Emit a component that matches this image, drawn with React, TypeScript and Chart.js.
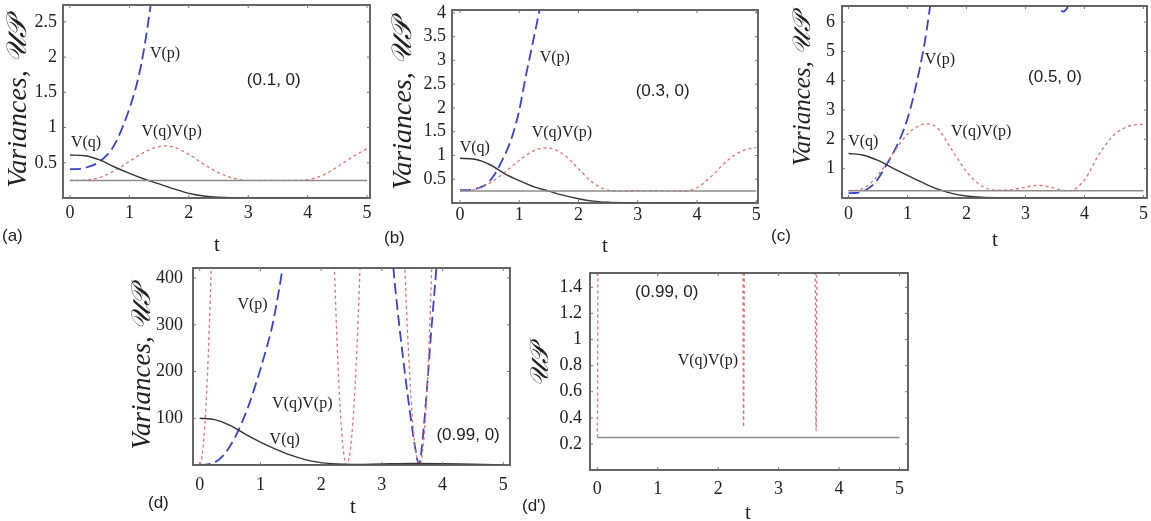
import React, { useEffect, useRef } from "react";
import { Chart, registerables } from "chart.js";

Chart.register(...registerables);

// ---------------- data ----------------
const X_TICKS = [0, 1, 2, 3, 4, 5];
const X_TICK_LABELS = ["0", "1", "2", "3", "4", "5"];

const BOUND_T = [0, 5];
const BOUND_V = [0.25, 0.25];

// (a) (0.1, 0)
const A_Y_TICKS = [0.5, 1, 1.5, 2, 2.5];
const A_Y_LABELS = ["0.5", "1", "1.5", "2", "2.5"];
const A_VQ_T = [0, 0.25, 0.5, 0.75, 1, 1.25, 1.5, 1.75, 2, 2.25, 2.5, 2.75, 3, 3.5, 4, 4.5, 5];
const A_VQ = [0.61, 0.6, 0.54, 0.44, 0.35, 0.27, 0.2, 0.13, 0.065, 0.028, 0.01, 0.004, 0.002, 0.001, 0.002, 0.003, 0.001];
const A_VP_T = [0, 0.1, 0.2, 0.3, 0.4, 0.5, 0.6, 0.7, 0.8, 0.9, 1.0, 1.1, 1.2, 1.3, 1.4];
const A_VP = [0.41, 0.41, 0.42, 0.44, 0.47, 0.52, 0.59, 0.69, 0.84, 1.04, 1.27, 1.54, 1.9, 2.4, 3.0];
const A_UP_T = [0, 0.25, 0.5, 0.75, 1, 1.25, 1.5, 1.6, 1.75, 2, 2.25, 2.5, 2.75, 3, 3.25, 3.5, 3.75, 4, 4.25, 4.5, 4.75, 5];
const A_UP = [0.25, 0.255, 0.29, 0.39, 0.52, 0.65, 0.73, 0.74, 0.72, 0.62, 0.48, 0.36, 0.28, 0.25, 0.25, 0.25, 0.25, 0.26, 0.32, 0.44, 0.58, 0.7];

// (b) (0.3, 0)
const B_Y_TICKS = [0.5, 1, 1.5, 2, 2.5, 3, 3.5, 4];
const B_Y_LABELS = ["0.5", "1", "1.5", "2", "2.5", "3", "3.5", "4"];
const B_VQ_T = [0, 0.25, 0.5, 0.75, 1, 1.25, 1.5, 1.75, 2, 2.25, 2.5, 2.75, 3, 3.5, 4, 4.5, 5];
const B_VQ = [0.94, 0.92, 0.81, 0.62, 0.47, 0.34, 0.25, 0.16, 0.09, 0.04, 0.015, 0.005, 0.003, 0.004, 0.004, 0.002, 0.002];
const B_VP_T = [0, 0.1, 0.2, 0.3, 0.4, 0.5, 0.6, 0.7, 0.8, 0.9, 1.0, 1.1, 1.2, 1.3, 1.4];
const B_VP = [0.27, 0.27, 0.28, 0.31, 0.36, 0.46, 0.63, 0.87, 1.13, 1.48, 1.95, 2.6, 3.2, 3.8, 4.4];
const B_UP_T = [0, 0.25, 0.5, 0.75, 1, 1.25, 1.45, 1.75, 2, 2.25, 2.5, 2.75, 3, 3.25, 3.5, 3.75, 4, 4.25, 4.5, 4.75, 5];
const B_UP = [0.25, 0.28, 0.42, 0.64, 0.9, 1.1, 1.16, 1.02, 0.72, 0.42, 0.27, 0.25, 0.255, 0.26, 0.255, 0.25, 0.32, 0.57, 0.88, 1.09, 1.17];

// (c) (0.5, 0)
const C_Y_TICKS = [1, 2, 3, 4, 5, 6];
const C_Y_LABELS = ["1", "2", "3", "4", "5", "6"];
const C_VQ_T = [0, 0.25, 0.5, 0.75, 1, 1.25, 1.5, 1.75, 2, 2.25, 2.5, 2.75, 3, 3.5, 4, 4.5, 5];
const C_VQ = [1.52, 1.46, 1.28, 1.02, 0.77, 0.53, 0.31, 0.16, 0.07, 0.025, 0.01, 0.008, 0.01, 0.012, 0.01, 0.005, 0.004];
const C_VP_T = [0, 0.1, 0.2, 0.3, 0.4, 0.5, 0.6, 0.7, 0.8, 0.9, 1.0, 1.1, 1.2, 1.3, 1.4, 1.5, 2.5, 3.5, 3.55, 3.6, 3.64, 3.68, 3.73, 3.78, 3.85];
const C_VP = [0.165, 0.17, 0.2, 0.28, 0.42, 0.65, 0.98, 1.33, 1.7, 2.15, 2.7, 3.45, 4.35, 5.4, 6.75, 7.9, null, 6.9, 6.6, 6.42, 6.36, 6.41, 6.58, 6.85, 7.4];
const C_UP_T = [0, 0.2, 0.4, 0.6, 0.8, 1.0, 1.2, 1.33, 1.5, 1.75, 2.0, 2.25, 2.5, 2.75, 3.0, 3.2, 3.4, 3.6, 3.75, 4.0, 4.25, 4.5, 4.75, 5.0];
const C_UP = [0.25, 0.29, 0.55, 1.05, 1.65, 2.18, 2.47, 2.53, 2.4, 1.65, 0.9, 0.42, 0.27, 0.28, 0.37, 0.43, 0.38, 0.27, 0.25, 0.62, 1.5, 2.15, 2.45, 2.52];

// (d) and (d') (0.99, 0)
const D_Y_TICKS = [100, 200, 300, 400];
const D_Y_LABELS = ["100", "200", "300", "400"];
const D2_Y_TICKS = [0.2, 0.4, 0.6, 0.8, 1, 1.2, 1.4];
const D2_Y_LABELS = ["0.2", "0.4", "0.6", "0.8", "1", "1.2", "1.4"];
const D_VQ_T = [0, 0.25, 0.5, 0.75, 1, 1.25, 1.5, 1.75, 2, 2.25, 2.5, 3, 3.5, 4, 4.5, 5];
const D_VQ = [100, 97, 85, 66, 49, 34, 21, 11, 5, 2, 1, 2.2, 3.2, 2.8, 1.5, 0.6];
const D_VP_T = [0, 0.2, 0.4, 0.6, 0.8, 1.0, 1.1, 1.2, 1.3, 1.4, 2.3, 3.12, 3.19, 3.26, 3.33, 3.4, 3.46, 3.52, 3.56, 3.59, 3.61, 3.63, 3.66, 3.7, 3.75, 3.8, 3.85, 3.9, 3.95];
const D_VP = [0, 3, 22, 64, 125, 205, 250, 300, 370, 450, null, 560, 422, 330, 250, 175, 115, 60, 28, 8, 2, 8, 40, 95, 175, 265, 345, 425, 520];
const D_UP_T = [0, 0.004, 0.008, 0.012, 0.02, 0.04, 0.07, 0.1, 0.13, 0.16, 0.19, 0.22, 1.2,
  2.18, 2.22, 2.26, 2.3, 2.34, 2.37, 2.39, 2.405, 2.412, 2.417, 2.42, 2.423, 2.428, 2.435, 2.45, 2.47, 2.5, 2.54, 2.58, 2.62, 2.66, 2.69, 3.0,
  3.34, 3.38, 3.42, 3.46, 3.5, 3.54, 3.57, 3.59, 3.605, 3.612, 3.617, 3.62, 3.623, 3.628, 3.635, 3.65, 3.67, 3.7, 3.74, 3.78, 3.82, 3.86];
const D_UP = [0.25, 0.44, 1.0, 1.9, 4.9, 19, 57, 117, 198, 300, 422, 566, null,
  606, 421, 270, 152, 68, 27, 9.8, 2.7, 1.0, 0.42, 0.33, 0.41, 0.89, 2.3, 8.2, 22, 56, 126, 223, 348, 504, 642, null,
  572, 421, 292, 187, 105, 47, 18.6, 6.9, 1.9, 0.77, 0.36, 0.3, 0.39, 0.97, 2.7, 9.8, 27, 68, 152, 269, 420, 605];

// ---------------- styles ----------------
const STYLE: Record<string, any> = {
  vq: { borderColor: "#353535", borderWidth: 1.4, borderDash: [] },
  vp: { borderColor: "#3a42c6", borderWidth: 1.8, borderDash: [11, 5] },
  up: { borderColor: "#e07272", borderWidth: 1.3, borderDash: [3, 3] },
  bound: { borderColor: "#8c8c8c", borderWidth: 1.5, borderDash: [] },
};

const SERIF = "'Liberation Serif', 'DejaVu Serif', serif";
const SANS = "'Liberation Sans', 'DejaVu Sans', sans-serif";
const TICK_FONT = { family: SERIF, size: 18 };
const NOTE_SERIF = `16px ${SERIF}`;
const NOTE_SANS = `17px ${SANS}`;
const Y_TITLE = "Variances, \u{1D4B0}\u{1D4AB}";
const Y_TITLE_SHORT = "\u{1D4B0}\u{1D4AB}";

type Series = { kind: string; t: number[]; v: (number | null)[] };
type Note = { text: string; t: number; v: number; font: string };
type Panel = {
  id: string;
  canvas: [number, number, number, number];
  frame: [number, number, number, number];
  xRange: [number, number];
  yRange: [number, number];
  yTicks: number[];
  yLabels: string[];
  xPad: number;
  yPad: number;
  yTitle: string;
  yTitlePos: [number, number];
  yTitleSize: number;
  tPos: [number, number];
  label: string;
  labelPos: [number, number];
  series: Series[];
  notes: Note[];
};

const PANELS: Panel[] = [
  {
    id: "a", canvas: [0, 0, 380, 262], frame: [63, 5, 370, 198],
    xRange: [-0.118, 5.05], yRange: [0, 2.74], yTicks: A_Y_TICKS, yLabels: A_Y_LABELS,
    xPad: 4, yPad: 6, yTitle: Y_TITLE, yTitlePos: [19, 103], yTitleSize: 28, tPos: [217, 245],
    label: "(a)", labelPos: [2, 236],
    series: [
      { kind: "bound", t: BOUND_T, v: BOUND_V },
      { kind: "vq", t: A_VQ_T, v: A_VQ },
      { kind: "up", t: A_UP_T, v: A_UP },
      { kind: "vp", t: A_VP_T, v: A_VP },
    ],
    notes: [
      { text: "V(p)", t: 1.6, v: 2.05, font: NOTE_SERIF },
      { text: "(0.1, 0)", t: 3.43, v: 1.67, font: NOTE_SANS },
      { text: "V(q)V(p)", t: 1.71, v: 0.94, font: NOTE_SERIF },
      { text: "V(q)", t: 0.27, v: 0.79, font: NOTE_SERIF },
    ],
  },
  {
    id: "b", canvas: [380, 0, 390, 262], frame: [452, 10, 758, 203],
    xRange: [-0.135, 5.03], yRange: [0, 4.06], yTicks: B_Y_TICKS, yLabels: B_Y_LABELS,
    xPad: 1, yPad: 6, yTitle: Y_TITLE, yTitlePos: [404, 105], yTitleSize: 28, tPos: [605, 246],
    label: "(b)", labelPos: [384, 238],
    series: [
      { kind: "bound", t: BOUND_T, v: BOUND_V },
      { kind: "vq", t: B_VQ_T, v: B_VQ },
      { kind: "up", t: B_UP_T, v: B_UP },
      { kind: "vp", t: B_VP_T, v: B_VP },
    ],
    notes: [
      { text: "V(p)", t: 1.6, v: 3.05, font: NOTE_SERIF },
      { text: "(0.3, 0)", t: 3.42, v: 2.36, font: NOTE_SANS },
      { text: "V(q)V(p)", t: 1.72, v: 1.47, font: NOTE_SERIF },
      { text: "V(q)", t: 0.25, v: 1.16, font: NOTE_SERIF },
    ],
  },
  {
    id: "c", canvas: [770, 0, 381, 262], frame: [842, 6, 1147, 198],
    xRange: [-0.11, 5.06], yRange: [0, 6.55], yTicks: C_Y_TICKS, yLabels: C_Y_LABELS,
    xPad: 5, yPad: 7, yTitle: Y_TITLE, yTitlePos: [803, 90], yTitleSize: 25, tPos: [995, 240],
    label: "(c)", labelPos: [771, 236],
    series: [
      { kind: "bound", t: BOUND_T, v: BOUND_V },
      { kind: "vq", t: C_VQ_T, v: C_VQ },
      { kind: "up", t: C_UP_T, v: C_UP },
      { kind: "vp", t: C_VP_T, v: C_VP },
    ],
    notes: [
      { text: "V(p)", t: 1.55, v: 4.7, font: NOTE_SERIF },
      { text: "(0.5, 0)", t: 3.5, v: 4.12, font: NOTE_SANS },
      { text: "V(q)V(p)", t: 2.25, v: 2.26, font: NOTE_SERIF },
      { text: "V(q)", t: 0.25, v: 1.93, font: NOTE_SERIF },
    ],
  },
  {
    id: "d", canvas: [120, 255, 400, 266], frame: [193, 268, 510, 465],
    xRange: [-0.11, 5.11], yRange: [0, 421.5], yTicks: D_Y_TICKS, yLabels: D_Y_LABELS,
    xPad: 9, yPad: 10, yTitle: Y_TITLE, yTitlePos: [143, 368], yTitleSize: 27, tPos: [353, 507],
    label: "(d)", labelPos: [148, 503],
    series: [
      { kind: "bound", t: BOUND_T, v: BOUND_V },
      { kind: "vq", t: D_VQ_T, v: D_VQ },
      { kind: "up", t: D_UP_T, v: D_UP },
      { kind: "vp", t: D_VP_T, v: D_VP },
    ],
    notes: [
      { text: "V(p)", t: 0.87, v: 343, font: NOTE_SERIF },
      { text: "V(q)V(p)", t: 1.69, v: 132, font: NOTE_SERIF },
      { text: "V(q)", t: 1.4, v: 53, font: NOTE_SERIF },
      { text: "(0.99, 0)", t: 4.42, v: 64, font: NOTE_SANS },
    ],
  },
  {
    id: "d2", canvas: [520, 255, 410, 266], frame: [590, 273, 908, 470],
    xRange: [-0.12, 5.14], yRange: [0, 1.51], yTicks: D2_Y_TICKS, yLabels: D2_Y_LABELS,
    xPad: 8, yPad: 8, yTitle: Y_TITLE_SHORT, yTitlePos: [541, 366], yTitleSize: 26, tPos: [748, 513],
    label: "(d')", labelPos: [522, 506],
    series: [
      { kind: "bound", t: BOUND_T, v: BOUND_V },
      { kind: "up", t: D_UP_T, v: D_UP },
    ],
    notes: [
      { text: "(0.99, 0)", t: 1.15, v: 1.36, font: NOTE_SANS },
      { text: "V(q)V(p)", t: 1.83, v: 0.84, font: NOTE_SERIF },
    ],
  },
];

const zip = (ts: number[], vs: (number | null)[]) => ts.map((t, i) => ({ x: t, y: vs[i] }));

function decoPlugin(p: Panel) {
  const [cx, cy] = p.canvas;
  return {
    id: "deco_" + p.id,
    afterDatasetsDraw(chart: any) {
      const { ctx, chartArea: a, scales } = chart;
      ctx.save();
      ctx.strokeStyle = "#555";
      ctx.lineWidth = 1.8;
      ctx.setLineDash([]);
      ctx.strokeRect(a.left, a.top, a.right - a.left, a.bottom - a.top);
      ctx.lineWidth = 1;
      ctx.strokeStyle = "#777";
      ctx.beginPath();
      for (const v of X_TICKS) {
        const x = scales.x.getPixelForValue(v);
        ctx.moveTo(x, a.bottom); ctx.lineTo(x, a.bottom - 3);
        ctx.moveTo(x, a.top); ctx.lineTo(x, a.top + 3);
      }
      for (const v of p.yTicks) {
        const y = scales.y.getPixelForValue(v);
        ctx.moveTo(a.left, y); ctx.lineTo(a.left + 3, y);
        ctx.moveTo(a.right, y); ctx.lineTo(a.right - 3, y);
      }
      ctx.stroke();
      ctx.fillStyle = "#222";
      ctx.textAlign = "center";
      ctx.textBaseline = "middle";
      for (const n of p.notes) {
        ctx.font = n.font;
        ctx.fillText(n.text, scales.x.getPixelForValue(n.t), scales.y.getPixelForValue(n.v));
      }
      ctx.font = `21px ${SERIF}`;
      ctx.fillText("t", p.tPos[0] - cx, p.tPos[1] - cy);
      ctx.font = `17px ${SANS}`;
      ctx.textAlign = "left";
      ctx.fillText(p.label, p.labelPos[0] - cx, p.labelPos[1] - cy);
      ctx.translate(p.yTitlePos[0] - cx, p.yTitlePos[1] - cy);
      ctx.rotate(-Math.PI / 2);
      ctx.textAlign = "center";
      ctx.font = `italic ${p.yTitleSize}px ${SERIF}`;
      ctx.fillText(p.yTitle, 0, 0);
      ctx.restore();
    },
  };
}

function PanelChart({ p }: { p: Panel }) {
  const ref = useRef<HTMLCanvasElement>(null);
  useEffect(() => {
    const [cx, cy, cw, ch] = p.canvas;
    const [L, T, R, B] = p.frame;
    const chart = new Chart(ref.current as HTMLCanvasElement, {
      type: "line",
      data: {
        datasets: p.series.map((s) => ({
          data: zip(s.t, s.v),
          ...STYLE[s.kind],
          pointRadius: 0,
          fill: false,
          cubicInterpolationMode: "monotone",
          clip: 0,
          spanGaps: false,
        })),
      },
      options: {
        animation: false,
        responsive: false,
        devicePixelRatio: 1,
        events: [],
        layout: { padding: { top: T - cy, right: cx + cw - R, left: 0, bottom: 0 } },
        plugins: { legend: { display: false }, tooltip: { enabled: false } },
        scales: {
          x: {
            type: "linear",
            min: p.xRange[0],
            max: p.xRange[1],
            grid: { display: false, drawTicks: false },
            border: { display: false },
            ticks: {
              font: TICK_FONT,
              color: "#222",
              padding: p.xPad,
              maxRotation: 0,
              autoSkip: false,
              callback: (_v: any, i: number) => X_TICK_LABELS[i],
            },
            afterBuildTicks: (s: any) => {
              s.ticks = X_TICKS.map((v) => ({ value: v }));
            },
            afterFit: (s: any) => {
              s.height = cy + ch - B;
              s.paddingLeft = 0;
              s.paddingRight = 0;
              s.paddingTop = 0;
              s.paddingBottom = 0;
            },
          },
          y: {
            type: "linear",
            min: p.yRange[0],
            max: p.yRange[1],
            grid: { display: false, drawTicks: false },
            border: { display: false },
            ticks: {
              font: TICK_FONT,
              color: "#222",
              padding: p.yPad,
              autoSkip: false,
              callback: (_v: any, i: number) => p.yLabels[i],
            },
            afterBuildTicks: (s: any) => {
              s.ticks = p.yTicks.map((v) => ({ value: v }));
            },
            afterFit: (s: any) => {
              s.width = L - cx;
              s.paddingLeft = 0;
              s.paddingRight = 0;
              s.paddingTop = 0;
              s.paddingBottom = 0;
            },
          },
        },
      } as any,
      plugins: [decoPlugin(p)],
    });
    const fonts: any = (document as any).fonts;
    if (fonts && fonts.load) {
      Promise.all([
        fonts.load(`18px 'Liberation Serif'`),
        fonts.load(`italic 26px 'Liberation Serif'`),
        fonts.load(`17px 'Liberation Sans'`),
      ]).then(() => chart.update()).catch(() => {});
    }
    return () => chart.destroy();
  }, [p]);
  const [cx, cy, cw, ch] = p.canvas;
  return (
    <canvas
      ref={ref}
      width={cw}
      height={ch}
      style={{ position: "absolute", left: cx, top: cy, width: cw, height: ch }}
    />
  );
}

export default function App() {
  return (
    <div style={{ position: "absolute", left: 0, top: 0, width: 1151, height: 521, background: "#fff", overflow: "hidden" }}>
      {PANELS.map((p) => (
        <PanelChart key={p.id} p={p} />
      ))}
    </div>
  );
}
